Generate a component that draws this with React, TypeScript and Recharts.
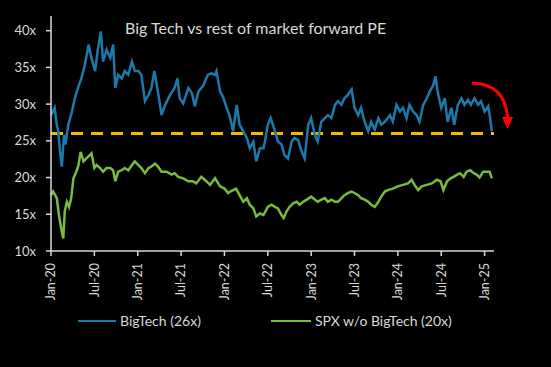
import { LineChart, Line, XAxis, YAxis, ReferenceLine } from "recharts"

// months since Jan-20
const bigTechMonths = [
  0, 0.5, 0.8, 1.0, 1.25, 1.5, 1.8, 2.0, 2.4, 2.9, 3.3, 3.8, 4.2, 4.7, 5.2, 5.6, 6.1, 6.5, 6.9, 7.2,
  7.7, 8.2, 8.6, 8.9, 9.3, 9.8, 10.2, 10.7, 11.2, 11.6, 12.1, 12.5, 13.0, 13.5, 13.9, 14.3, 14.8, 15.3, 15.8, 16.5,
  17.1, 17.5, 17.8, 18.3, 19.0, 19.5, 19.9, 20.4, 21.1, 21.7, 22.2, 22.7, 22.9, 23.4, 23.8, 24.3, 24.7, 25.2, 25.7, 26.1,
  26.6, 27.1, 27.5, 28.0, 28.4, 28.9, 29.4, 29.6, 30.0, 30.4, 31.0, 31.4, 31.9, 32.3, 32.8, 33.3, 33.7, 34.2, 34.7, 35.1,
  35.6, 36.0, 36.5, 36.9, 37.4, 37.9, 38.3, 38.8, 39.3, 39.7, 40.2, 40.6, 41.1, 41.6, 42.0, 42.5, 42.9, 43.4, 43.9, 44.3,
  44.8, 45.3, 45.7, 46.2, 46.9, 47.3, 47.8, 48.3, 48.7, 49.2, 49.6, 50.1, 50.6, 51.0, 51.5, 52.0, 52.4, 52.9, 53.2, 53.5,
  54.0, 54.5, 54.7, 54.9, 55.4, 55.8, 56.3, 56.8, 57.2, 57.7, 58.1, 58.6, 59.1, 59.5, 60.0, 60.5, 60.7, 61.0,
]
const bigTechPE = [
  28.5, 29.5, 27.2, 26.3, 23.5, 21.5, 25.8, 24.5, 27.2, 29, 30.8, 32.4, 33.5, 35.4, 38.1, 36.3, 34.5, 37.6, 39.9, 35.8,
  37.4, 36.3, 38.1, 32.2, 34, 33.5, 34.5, 34, 35.8, 34.5, 34.5, 34, 30.4, 31.3, 32.2, 34.5, 31.7, 28.5, 29.9, 31.3,
  32.2, 33.5, 30.8, 30.1, 32.2, 31.5, 29.7, 31.7, 32.6, 34, 34.2, 34, 34.5, 31.7, 31, 29.5, 28.5, 26.3, 29.9, 27.2,
  26.3, 25.4, 24, 24.9, 22.2, 24, 24, 24.9, 27.2, 28.1, 26.3, 24.9, 24.5, 23.1, 22.6, 24.9, 25.4, 25.1, 23.5, 22.6,
  27.2, 28.1, 25.8, 24.9, 27.6, 28.1, 28.5, 28.1, 29.9, 30.4, 29.9, 30.8, 31.3, 32, 29.5, 28.5, 29.5, 27.6, 26.3, 27.6,
  26.5, 28.1, 27.2, 27.6, 28.5, 27.6, 29.9, 29, 29.5, 28.1, 29.9, 29, 28.5, 27.6, 29.9, 30.8, 31.7, 32.6, 33.8, 31.7,
  29.5, 30.8, 29, 27.6, 29.5, 27.2, 29.9, 30.8, 29.9, 30.6, 29.9, 30.8, 29.9, 30.4, 29, 29.7, 28.5, 26.3,
]

const spxMonths = [
  0, 0.3, 0.8, 1.1, 1.5, 1.7, 1.9, 2.2, 2.5, 2.8, 3.1, 3.5, 3.8, 4.1, 4.5, 4.9, 5.4, 5.6, 6.0, 6.3,
  6.8, 7.2, 7.7, 8.2, 8.6, 8.9, 9.3, 9.8, 10.2, 10.7, 11.2, 11.6, 12.1, 12.5, 13.0, 13.5, 13.9, 14.4, 14.8, 15.3,
  16.0, 16.7, 17.1, 17.6, 18.3, 19.0, 19.6, 20.1, 20.8, 21.5, 22.0, 22.7, 23.4, 24.0, 24.5, 24.8, 25.6, 26.1, 26.6, 27.1,
  27.5, 28.0, 28.4, 28.9, 29.4, 30.0, 30.5, 31.0, 31.4, 31.9, 32.2, 32.6, 33.0, 33.5, 34.0, 34.4, 34.9, 35.4, 36.0, 36.5,
  36.9, 37.4, 37.9, 38.3, 38.8, 39.3, 39.7, 40.2, 40.6, 41.1, 41.6, 42.0, 42.5, 42.9, 43.4, 43.9, 44.3, 44.8, 45.3, 45.7,
  46.2, 46.6, 47.3, 48.0, 48.7, 49.4, 49.9, 50.3, 50.8, 51.3, 52.0, 52.7, 53.4, 53.9, 54.3, 54.8, 55.3, 55.7, 56.2, 56.6,
  57.1, 57.5, 58.0, 58.5, 58.9, 59.3, 59.8, 60.3, 60.7, 61.0,
]
const spxPE = [
  17.6, 18.1, 17.2, 14.9, 12.6, 11.7, 15.4, 16.7, 16, 17.2, 19.9, 20.8, 21.7, 23.5, 22.2, 22.6, 23.1, 23.3, 21.3, 21.7,
  21.3, 20.8, 21.3, 21.3, 21, 19.5, 20.8, 21, 21.3, 21, 21.7, 22.2, 21.7, 21.3, 20.6, 21.3, 21.5, 21.9, 21.5, 20.8,
  20.8, 20.4, 20.6, 20.1, 19.9, 19.5, 19.5, 19.2, 20.1, 19.5, 19, 19.9, 18.8, 18.5, 17.9, 18.1, 18.5, 17.6, 16.7, 17.2,
  16.3, 15.8, 14.7, 15.1, 14.9, 16, 16.3, 16, 15.8, 14.9, 14.5, 15.4, 16, 16.5, 16.7, 16.3, 16.7, 17, 17.4, 17,
  16.7, 17, 17.2, 16.7, 17, 16.7, 16.7, 17.2, 17.6, 17.9, 18.1, 17.9, 17.6, 17.2, 17, 16.7, 16.3, 16, 16.7, 17.4,
  18.1, 18.3, 18.5, 18.8, 19, 19.2, 19.7, 19, 18.3, 18.8, 19, 19.2, 19.7, 19.5, 18.3, 19.5, 19.9, 20.1, 20.4, 20.6,
  20.1, 20.8, 21, 20.6, 20.4, 20, 20.8, 20.8, 20.8, 19.9,
]

const tickMonths = [0, 6, 12, 18, 24, 30, 36, 42, 48, 54, 60]
const tickLabels = ["Jan-20", "Jul-20", "Jan-21", "Jul-21", "Jan-22", "Jul-22", "Jan-23", "Jul-23", "Jan-24", "Jul-24", "Jan-25"]
const yTicks = [10, 15, 20, 25, 30, 35, 40]
const bigTechAvg = 26

const FONT = "Lato, 'Noto Sans', sans-serif"
const GREY = "#d9d9d9"
const BLUE = "#1a7aaa"
const GREEN = "#79bb3f"

const bigTechData = bigTechMonths.map((m, i) => ({ m, v: bigTechPE[i] }))
const spxData = spxMonths.map((m, i) => ({ m, v: spxPE[i] }))

function XTick(props: any) {
  const { x, y, payload } = props
  const idx = tickMonths.indexOf(payload.value)
  return (
    <text
      x={x}
      y={y + 5}
      transform={`rotate(-90 ${x} ${y + 5})`}
      textAnchor="end"
      dy="0.35em"
      fill={GREY}
      fontSize={12.5}
      fontFamily={FONT}
    >
      {tickLabels[idx]}
    </text>
  )
}

export default function App() {
  return (
    <div style={{ position: "fixed", left: 0, top: 0, width: 551, height: 367, background: "#000", overflow: "hidden" }}>
      <LineChart width={551} height={300} margin={{ top: 16, right: 57, bottom: 0, left: 0 }}>
        <XAxis
          dataKey="m"
          type="number"
          domain={[0, 61.3]}
          ticks={tickMonths}
          tick={<XTick />}
          height={49}
          stroke={GREY}
          strokeWidth={1.5}
          tickSize={5}
          interval={0}
        />
        <YAxis
          type="number"
          domain={[10, 42]}
          ticks={yTicks}
          tickFormatter={(v) => `${v}x`}
          width={51}
          stroke={GREY}
          strokeWidth={1.5}
          tickSize={5}
          tickMargin={10}
          tick={{ fill: GREY, fontSize: 13, fontFamily: FONT }}
        />
        <ReferenceLine y={bigTechAvg} stroke="#f5b800" strokeWidth={3} strokeDasharray="12 8" />
        <Line
          data={spxData}
          dataKey="v"
          type="linear"
          stroke={GREEN}
          strokeWidth={2.5}
          dot={false}
          isAnimationActive={false}
        />
        <Line
          data={bigTechData}
          dataKey="v"
          type="linear"
          stroke={BLUE}
          strokeWidth={2.5}
          dot={false}
          isAnimationActive={false}
        />
      </LineChart>

      {/* title */}
      <div style={{ position: "absolute", left: 125, top: 18, color: GREY, fontFamily: FONT, fontSize: 16, whiteSpace: "nowrap" }}>
        Big Tech vs rest of market forward PE
      </div>

      {/* red arrow annotation */}
      <svg width={551} height={367} style={{ position: "absolute", left: 0, top: 0, pointerEvents: "none" }}>
        <path d="M472 83 Q505 84 507.5 117" fill="none" stroke="#ff0000" strokeWidth={3} />
        <polygon points="502,117 513,117 507.5,129" fill="#ff0000" />
      </svg>

      {/* legend */}
      <div style={{ position: "absolute", left: 78, top: 312, display: "flex", alignItems: "center", fontFamily: FONT, fontSize: 14, color: GREY, whiteSpace: "nowrap" }}>
        <span style={{ display: "inline-block", width: 38, height: 2, background: BLUE, marginRight: 4 }} />
        <span>BigTech (26x)</span>
        <span style={{ display: "inline-block", width: 40, height: 2, background: GREEN, marginLeft: 70, marginRight: 4 }} />
        <span>SPX w/o BigTech (20x)</span>
      </div>
    </div>
  )
}
